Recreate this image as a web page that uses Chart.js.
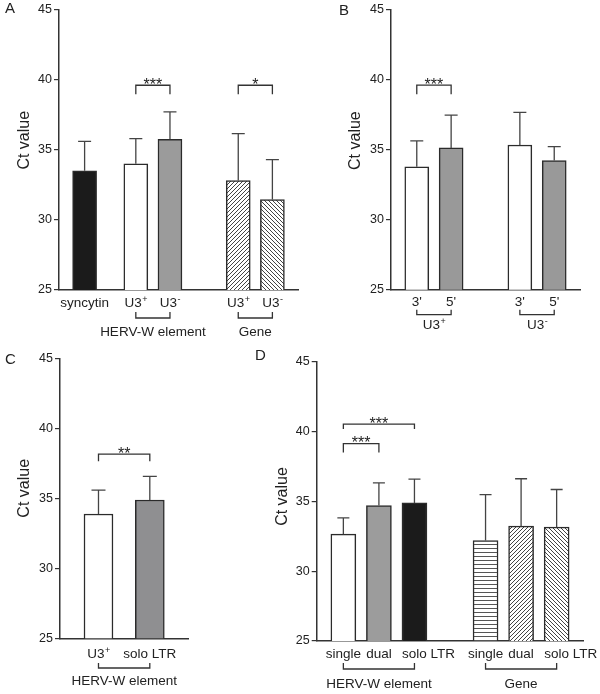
<!DOCTYPE html>
<html><head><meta charset="utf-8">
<script src="https://cdn.jsdelivr.net/npm/chart.js@4.4.0/dist/chart.umd.min.js"></script>
<style>
html,body{margin:0;padding:0;background:#fff;}
#wrap{position:relative;width:600px;height:694px;overflow:hidden;background:#fff;}
canvas{position:absolute;}
</style></head><body>
<div id="wrap">
<canvas id="cA" style="left:0px;top:0px" width="300" height="345"></canvas>
<canvas id="cB" style="left:300px;top:0px" width="300" height="345"></canvas>
<canvas id="cC" style="left:0px;top:345px" width="250" height="349"></canvas>
<canvas id="cD" style="left:250px;top:345px" width="350" height="349"></canvas>
</div>
<script>
// ---------------- DATA ----------------
const yTicks = [25, 30, 35, 40, 45];
const yTitle = 'Ct value';

const catA = ['syncytin', 'U3^+', 'U3^-', 'U3^+', 'U3^-'];
const meanA = [33.5, 34.0, 35.75, 32.8, 31.45];
const sdA = [2.1, 1.8, 1.95, 3.35, 2.85];
const groupA = ['HERV-W element', 'Gene'];
const groupSpanA = [[1, 2], [3, 4]];
const sigA = ['***', '*'];
const sigSpanA = [[1, 2], [3, 4]];
const sigLevelA = [39.6, 39.6];

const catB = ["3'", "5'", "3'", "5'"];
const meanB = [33.77, 35.12, 35.33, 34.22];
const sdB = [1.85, 2.34, 2.32, 0.99];
const groupB = ['U3^+', 'U3^-'];
const groupSpanB = [[0, 1], [2, 3]];
const sigB = ['***'];
const sigSpanB = [[0, 1]];
const sigLevelB = [39.6];

const catC = ['U3^+', 'solo LTR'];
const meanC = [33.88, 34.88];
const sdC = [1.71, 1.69];
const groupC = ['HERV-W element'];
const groupSpanC = [[0, 1]];
const sigC = ['**'];
const sigSpanC = [[0, 1]];
const sigLevelC = [38.15];

const catD = ['single', 'dual', 'solo LTR', 'single', 'dual', 'solo LTR'];
const meanD = [32.66, 34.71, 34.9, 32.2, 33.23, 33.16];
const sdD = [1.17, 1.62, 1.7, 3.3, 3.4, 2.7];
const groupD = ['HERV-W element', 'Gene'];
const groupSpanD = [[0, 2], [3, 5]];
const sigD = ['***', '***'];
const sigSpanD = [[0, 1], [0, 2]];
const sigLevelD = [39.15, 40.55];

// ---------------- STYLE / LAYOUT ----------------
const FONT = '"Liberation Sans", Arial, Helvetica, sans-serif';
const INK = '#222';
const LINE = '#333';

function hatch(kind, size, color) {
  const c = document.createElement('canvas');
  c.width = size; c.height = size;
  const g = c.getContext('2d');
  g.fillStyle = '#fff'; g.fillRect(0, 0, size, size);
  g.strokeStyle = color; g.lineWidth = 1;
  g.beginPath();
  if (kind === 'h') {
    g.moveTo(0, size - 0.5); g.lineTo(size, size - 0.5);
  } else if (kind === '/') {
    g.moveTo(-1, size + 1); g.lineTo(size + 1, -1);
    g.moveTo(-1, 1); g.lineTo(1, -1);
    g.moveTo(size - 1, size + 1); g.lineTo(size + 1, size - 1);
  } else {
    g.moveTo(-1, -1); g.lineTo(size + 1, size + 1);
    g.moveTo(size - 1, -1); g.lineTo(size + 1, 1);
    g.moveTo(-1, size - 1); g.lineTo(1, size + 1);
  }
  g.stroke();
  return g.createPattern(c, 'repeat');
}

const BLACK = '#1b1b1b', WHITE = '#ffffff';
const panels = [
  { id: 'cA', letter: 'A', letterPos: [5, 12.5],
    cats: catA, mean: meanA, sd: sdA, groups: groupA, groupSpan: groupSpanA,
    sig: sigA, sigSpan: sigSpanA, sigLevel: sigLevelA, sigTail: [9, 9],
    fills: [BLACK, WHITE, '#9b9b9b', hatch('/', 4, '#444'), hatch('\\', 4, '#444')],
    slots: [1, 4, 6, 10, 12], nSlots: 14,
    pad: { left: 0, top: 7.5, right: 2, bottom: 0 }, yW: 59, xH: 55, titleX: 25, titleDy: -9.5,
    barW: 24, cap: 6.5, labelDy: 17, gLineDy: 28, gTail: 6, gTextDy: 45.5, anchorFirst: false },
  { id: 'cB', letter: 'B', letterPos: [39, 14.5],
    cats: catB, mean: meanB, sd: sdB, groups: groupB, groupSpan: groupSpanB,
    sig: sigB, sigSpan: sigSpanB, sigLevel: sigLevelB, sigTail: [9],
    fills: [WHITE, '#999999', WHITE, '#999999'],
    slots: [1, 3, 7, 9], nSlots: 11,
    pad: { left: 0, top: 8.5, right: 20, bottom: 0 }, yW: 91, xH: 55.3, titleX: 55.5, titleDy: -9,
    barW: 24, cap: 6.5, labelDy: 16.7, gLineDy: 25, gTail: 5, gTextDy: 39, anchorFirst: false },
  { id: 'cC', letter: 'C', letterPos: [5, 18.5],
    cats: catC, mean: meanC, sd: sdC, groups: groupC, groupSpan: groupSpanC,
    sig: sigC, sigSpan: sigSpanC, sigLevel: sigLevelC, sigTail: [7],
    fills: [WHITE, '#8f8f91'],
    slots: [1, 3], nSlots: 5,
    pad: { left: 0, top: 13.3, right: 61.7, bottom: 0 }, yW: 60, xH: 55.7, titleX: 25, titleDy: -10,
    barW: 29, cap: 7, labelDy: 19.7, gLineDy: 29.7, gTail: 5, gTextDy: 46.7, anchorFirst: false },
  { id: 'cD', letter: 'D', letterPos: [5, 15],
    cats: catD, mean: meanD, sd: sdD, groups: groupD, groupSpan: groupSpanD,
    sig: sigD, sigSpan: sigSpanD, sigLevel: sigLevelD, sigTail: [9, 5],
    fills: [WHITE, '#9c9c9c', BLACK, hatch('h', 4, '#555'), hatch('/', 4, '#444'), hatch('\\', 4, '#444')],
    slots: [1, 3, 5, 9, 11, 13], nSlots: 15,
    pad: { left: 0, top: 17, right: 16.7, bottom: 0 }, yW: 66.7, xH: 53, titleX: 33, titleDy: -5,
    barW: 25, cap: 6, labelDy: 17, gLineDy: 28, gTail: 6, gTextDy: 46.7, anchorFirst: true }
];

function drawLabel(ctx, text, x, y, size, anchorFirst) {
  const parts = text.split('^');
  const base = parts[0], sup = parts[1];
  const supSize = Math.round(size * 0.7);
  ctx.font = size + 'px ' + FONT;
  const wb = ctx.measureText(base).width;
  let ws = 0;
  if (sup) { ctx.font = supSize + 'px ' + FONT; ws = ctx.measureText(sup).width; ctx.font = size + 'px ' + FONT; }
  let x0;
  if (anchorFirst && base.indexOf(' ') > 0) x0 = x - ctx.measureText(base.split(' ')[0]).width / 2;
  else x0 = x - (wb + ws) / 2;
  ctx.textAlign = 'left'; ctx.textBaseline = 'alphabetic';
  ctx.fillText(base, x0, y);
  if (sup) {
    ctx.font = supSize + 'px ' + FONT;
    ctx.fillText(sup, x0 + wb + 0.5, y - size * 0.38);
  }
}

function panelPlugin(P) {
  return {
    id: 'panel' + P.letter,
    afterDraw(chart) {
      const ctx = chart.ctx, ca = chart.chartArea, xs = chart.scales.x, ys = chart.scales.y;
      const px = k => xs.getPixelForValue(P.slots[k]);
      ctx.save();
      // error bars (upper)
      ctx.strokeStyle = '#444'; ctx.lineWidth = 1.3;
      P.mean.forEach((m, k) => {
        const x = px(k), y0 = ys.getPixelForValue(m), y1 = ys.getPixelForValue(m + P.sd[k]);
        ctx.beginPath();
        ctx.moveTo(x, y0); ctx.lineTo(x, y1);
        ctx.moveTo(x - P.cap, y1); ctx.lineTo(x + P.cap, y1);
        ctx.stroke();
      });
      // significance brackets
      ctx.strokeStyle = LINE; ctx.lineWidth = 1.3; ctx.fillStyle = INK;
      P.sig.forEach((s, i) => {
        const x1 = px(P.sigSpan[i][0]), x2 = px(P.sigSpan[i][1]);
        const y = ys.getPixelForValue(P.sigLevel[i]);
        const t = P.sigTail[i];
        ctx.beginPath();
        ctx.moveTo(x1, y + t); ctx.lineTo(x1, y); ctx.lineTo(x2, y); ctx.lineTo(x2, y + t);
        ctx.stroke();
        ctx.font = '16px ' + FONT; ctx.textAlign = 'center'; ctx.textBaseline = 'alphabetic';
        ctx.fillText(s, (x1 + x2) / 2, y + 4.5);
      });
      // category labels
      ctx.fillStyle = INK;
      P.cats.forEach((c, k) => drawLabel(ctx, c, px(k), ca.bottom + P.labelDy, 13.5, P.anchorFirst));
      // group brackets
      P.groups.forEach((g, i) => {
        const x1 = px(P.groupSpan[i][0]), x2 = px(P.groupSpan[i][1]);
        const y = ca.bottom + P.gLineDy;
        ctx.strokeStyle = LINE; ctx.lineWidth = 1.3;
        ctx.beginPath();
        ctx.moveTo(x1, y - P.gTail); ctx.lineTo(x1, y); ctx.lineTo(x2, y); ctx.lineTo(x2, y - P.gTail);
        ctx.stroke();
        drawLabel(ctx, g, (x1 + x2) / 2, ca.bottom + P.gTextDy, 13.5, false);
      });
      // y-axis title
      ctx.save();
      ctx.translate(P.titleX, (ca.top + ca.bottom) / 2 + P.titleDy);
      ctx.rotate(-Math.PI / 2);
      ctx.font = '16px ' + FONT; ctx.textAlign = 'center'; ctx.textBaseline = 'middle';
      ctx.fillText(yTitle, 0, 0);
      ctx.restore();
      // panel letter
      ctx.font = '15px ' + FONT; ctx.textAlign = 'left'; ctx.textBaseline = 'alphabetic';
      ctx.fillText(P.letter, P.letterPos[0], P.letterPos[1]);
      ctx.restore();
    }
  };
}

panels.forEach(P => {
  const labels = new Array(P.nSlots).fill('');
  const data = new Array(P.nSlots).fill(null);
  const bg = new Array(P.nSlots).fill(WHITE);
  P.slots.forEach((s, k) => { labels[s] = P.cats[k].replace('^', ''); data[s] = P.mean[k]; bg[s] = P.fills[k]; });
  new Chart(document.getElementById(P.id), {
    type: 'bar',
    data: { labels: labels, datasets: [{
      data: data, backgroundColor: bg, borderColor: '#2b2b2b', borderWidth: 1.5,
      borderSkipped: false, barThickness: P.barW
    }]},
    options: {
      responsive: false, animation: false, devicePixelRatio: 1,
      layout: { padding: P.pad },
      plugins: { legend: { display: false }, tooltip: { enabled: false } },
      scales: {
        x: {
          type: 'category', offset: true,
          ticks: { display: false },
          grid: { display: false },
          border: { display: true, color: LINE, width: 1.5 },
          afterFit: s => { s.height = P.xH; }
        },
        y: {
          min: yTicks[0], max: yTicks[yTicks.length - 1],
          afterBuildTicks: s => { s.ticks = yTicks.map(v => ({ value: v })); },
          ticks: { font: { family: FONT, size: 12.5 }, color: INK, padding: 2 },
          grid: { display: true, drawOnChartArea: false, drawTicks: true, tickLength: 5, color: LINE, lineWidth: 1.2 },
          border: { display: true, color: LINE, width: 1.5 },
          title: { display: false },
          afterFit: s => { s.width = P.yW; }
        }
      }
    },
    plugins: [panelPlugin(P)]
  });
});
</script>
</body></html>
